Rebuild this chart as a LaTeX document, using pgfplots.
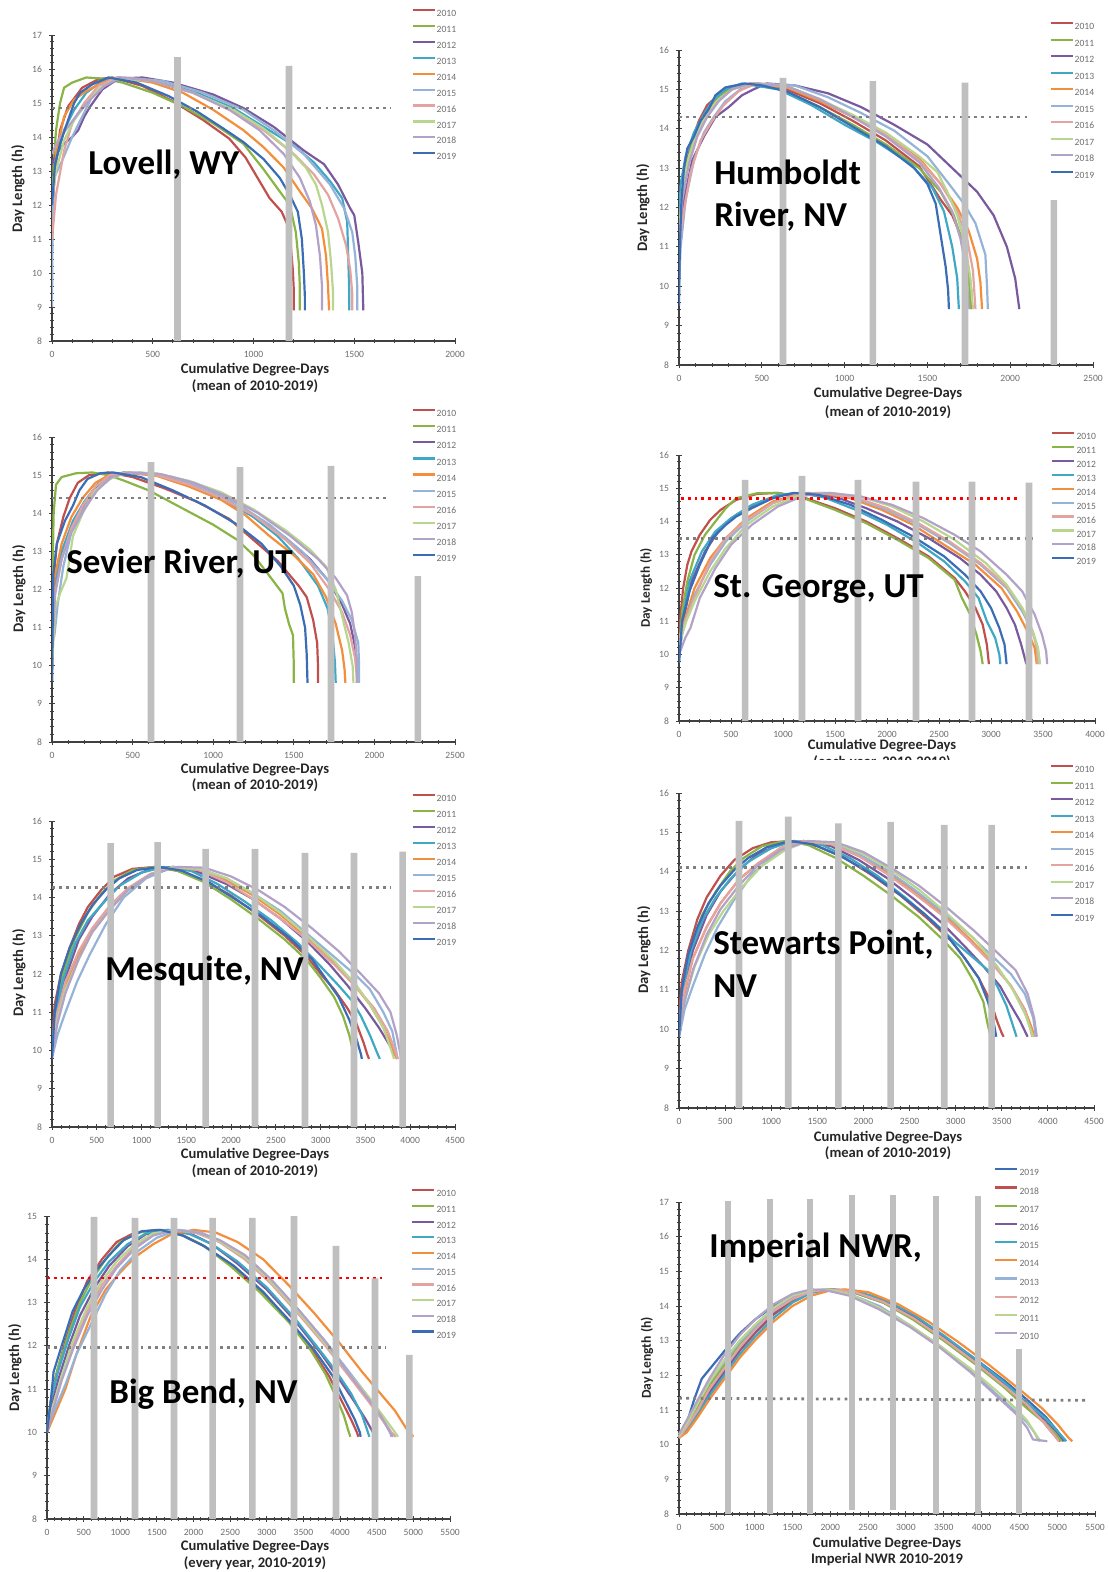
\documentclass[border=0pt]{standalone}
\usepackage{fontspec}
\setmainfont{Carlito}
\usepackage{pgfplots}
\pgfplotsset{compat=1.18}
\definecolor{c10}{HTML}{C0504D}
\definecolor{c11}{HTML}{8AB445}
\definecolor{c12}{HTML}{7A5A9E}
\definecolor{c13}{HTML}{3FA8C4}
\definecolor{c14}{HTML}{F38E3C}
\definecolor{c15}{HTML}{95B3D7}
\definecolor{c16}{HTML}{E3A3A1}
\definecolor{c17}{HTML}{B9D68E}
\definecolor{c18}{HTML}{B3A2C7}
\definecolor{c19}{HTML}{3A6DB5}
\definecolor{barcol}{HTML}{BFBFBF}
\definecolor{dotcol}{HTML}{7F7F7F}
\definecolor{axcol}{HTML}{404040}
\definecolor{tickcol}{HTML}{6E6E6E}
\definecolor{legcol}{HTML}{6E6E6E}
\pgfplotsset{
  s10/.style={draw=c10, line width=1.1pt, no marks, line join=round},
  s11/.style={draw=c11, line width=1.1pt, no marks, line join=round},
  s12/.style={draw=c12, line width=1.1pt, no marks, line join=round},
  s13/.style={draw=c13, line width=1.1pt, no marks, line join=round},
  s14/.style={draw=c14, line width=1.1pt, no marks, line join=round},
  s15/.style={draw=c15, line width=1.1pt, no marks, line join=round},
  s16/.style={draw=c16, line width=1.1pt, no marks, line join=round},
  s17/.style={draw=c17, line width=1.1pt, no marks, line join=round},
  s18/.style={draw=c18, line width=1.1pt, no marks, line join=round},
  s19/.style={draw=c19, line width=1.1pt, no marks, line join=round},
  gdot/.style={draw=dotcol, line width=1.4pt, dash pattern=on 1.4pt off 2.2pt, no marks, forget plot},
  rdot/.style={draw=red, line width=1.4pt, dash pattern=on 1.4pt off 2.0pt, no marks, forget plot},
  bars/.style={ybar, bar width=3.3pt, fill=barcol, draw=none, forget plot},
  panel/.style={
    scale only axis, anchor=south west,
    axis lines=left,
    axis line style={draw=axcol, line width=0.6pt, -},
    x axis line style={-}, y axis line style={-},
    every tick/.style={draw=axcol, line width=0.45pt},
    major tick length=3pt, minor tick length=1.6pt,
    tick align=center,
    minor x tick num=4, minor y tick num=4,
    xmin=0, ymin=8,
    scaled ticks=false,
    tick label style={font=\fontsize{4.8}{5}\selectfont, text=tickcol},
    /pgf/number format/assume math mode=true,
    /pgf/number format/1000 sep={},
    legend cell align=left,
    legend image code/.code={\draw[##1, line width=1.1pt] (0pt,1.65pt) -- (11pt,1.65pt);},
    legend style={anchor=north west, draw=none, fill=none, inner sep=0pt,
      font=\fontsize{4.8}{5}\selectfont, text=legcol,
      nodes={inner sep=0.5pt, text height=3.3pt, text depth=0pt}},
  },
}
\begin{document}
\begin{tikzpicture}
\path[use as bounding box] (0,0) rectangle (554pt,-786pt);

% ---------------- Panel 1: Lovell ----------------
\begin{axis}[panel, at={(26pt,-170.5pt)}, width=201.5pt, height=153pt,
  xmax=2000, ymax=17, xtick={0,500,...,2000}, ytick={8,...,17},
  legend style={at={(0.891,1.086)}, row sep=3.6pt}]
\addplot[s10] coordinates {(0,11.6)(15,13.0)(40,14.2)(80,14.9)(150,15.45)(230,15.7)(300,15.75)(450,15.5)(600,15.05)(750,14.5)(880,13.95)(960,13.4)(1020,12.8)(1080,12.2)(1140,11.8)(1170,11.4)(1185,10.8)(1195,10.1)(1200,9.5)(1200,8.9)};
\addlegendentry{2010}
\addplot[s11] coordinates {(0,11.0)(8,13.2)(20,14.2)(40,15.0)(60,15.45)(100,15.6)(170,15.75)(250,15.72)(350,15.6)(500,15.3)(650,14.9)(800,14.4)(950,13.8)(1050,13.05)(1130,12.4)(1180,12.0)(1210,11.2)(1225,10.3)(1230,9.6)(1230,8.9)};
\addlegendentry{2011}
\addplot[s12] coordinates {(0,13.2)(20,13.5)(60,13.8)(100,14.0)(130,14.2)(160,14.6)(190,14.9)(250,15.4)(330,15.72)(450,15.75)(600,15.6)(800,15.25)(950,14.85)(1100,14.3)(1250,13.6)(1350,13.2)(1420,12.6)(1480,11.9)(1500,11.7)(1520,10.9)(1540,10.0)(1545,8.9)};
\addlegendentry{2012}
\addplot[s13] coordinates {(0,12.3)(20,13.3)(60,14.2)(110,14.8)(170,15.3)(250,15.65)(330,15.75)(500,15.65)(700,15.35)(900,14.85)(1050,14.3)(1200,13.75)(1300,13.25)(1380,12.7)(1440,12.2)(1465,11.5)(1470,10.5)(1475,9.5)(1475,8.9)};
\addlegendentry{2013}
\addplot[s14] coordinates {(0,12.0)(20,13.5)(60,14.6)(110,15.1)(170,15.35)(250,15.6)(330,15.75)(500,15.6)(650,15.3)(800,14.8)(950,14.2)(1050,13.7)(1150,13.1)(1230,12.4)(1290,11.9)(1340,11.3)(1360,10.5)(1370,9.6)(1375,8.9)};
\addlegendentry{2014}
\addplot[s15] coordinates {(0,9.0)(3,11.5)(10,12.8)(50,13.3)(100,14.0)(150,14.6)(200,15.2)(270,15.6)(360,15.75)(550,15.65)(750,15.3)(950,14.8)(1100,14.2)(1250,13.5)(1380,12.6)(1450,11.9)(1490,11.2)(1505,10.5)(1515,9.6)(1515,8.9)};
\addlegendentry{2015}
\addplot[s16] coordinates {(0,11.0)(20,12.3)(60,13.6)(100,14.4)(160,15.0)(230,15.5)(320,15.75)(500,15.65)(700,15.3)(900,14.75)(1050,14.2)(1200,13.5)(1300,12.9)(1370,12.3)(1420,11.6)(1460,10.8)(1480,10.1)(1490,9.4)(1490,8.9)};
\addlegendentry{2016}
\addplot[s17] coordinates {(0,12.2)(20,13.0)(60,13.9)(110,14.5)(160,14.9)(230,15.4)(320,15.72)(500,15.65)(700,15.3)(900,14.8)(1050,14.25)(1180,13.6)(1260,13.1)(1310,12.6)(1340,12.0)(1370,11.2)(1385,10.3)(1395,9.4)(1395,8.9)};
\addlegendentry{2017}
\addplot[s18] coordinates {(0,13.5)(30,13.9)(80,14.3)(130,14.7)(190,15.1)(260,15.5)(340,15.75)(500,15.65)(700,15.3)(880,14.8)(1030,14.2)(1150,13.5)(1230,12.8)(1280,12.1)(1310,11.4)(1330,10.5)(1340,9.6)(1340,8.9)};
\addlegendentry{2018}
\addplot[s19] coordinates {(0,12.0)(15,13.2)(40,13.8)(80,14.5)(110,15.0)(140,15.3)(200,15.55)(280,15.75)(420,15.6)(580,15.2)(720,14.75)(850,14.25)(950,13.85)(1050,13.35)(1130,12.8)(1180,12.3)(1220,11.8)(1240,11.0)(1250,10.0)(1255,9.3)(1255,8.9)};
\addlegendentry{2019}
\addplot[gdot] coordinates {(0,14.85)(1680,14.85)};
\addplot[bars] coordinates {(623,16.35)(1176,16.09)};
\end{axis}

% ---------------- Panel 2: Humboldt ----------------
\begin{axis}[panel, at={(339.5pt,-182.5pt)}, width=207pt, height=157.5pt,
  xmax=2500, ymax=16, xtick={0,500,...,2500}, ytick={8,...,16},
  legend style={at={(0.894,1.090)}, row sep=3.9pt}]
\addplot[s10] coordinates {(0,10.5)(10,11.8)(30,12.8)(70,13.6)(120,14.2)(170,14.6)(250,14.9)(350,15.1)(480,15.15)(650,15.0)(850,14.65)(1050,14.2)(1250,13.7)(1450,13.05)(1580,12.2)(1650,11.8)(1710,11.2)(1745,10.5)(1765,9.9)(1770,9.42)};
\addlegendentry{2010}
\addplot[s11] coordinates {(0,10.8)(15,12.2)(40,13.0)(80,13.6)(130,14.1)(180,14.5)(250,14.85)(330,15.05)(450,15.15)(620,15.0)(850,14.55)(1050,14.1)(1250,13.6)(1450,13.0)(1580,12.4)(1660,11.8)(1720,11.0)(1750,10.3)(1760,9.42)};
\addlegendentry{2011}
\addplot[s12] coordinates {(0,11.0)(30,12.2)(80,13.2)(150,13.8)(220,14.3)(300,14.55)(380,14.85)(450,15.0)(530,15.15)(700,15.1)(900,14.9)(1100,14.55)(1300,14.1)(1500,13.6)(1650,13.0)(1800,12.4)(1900,11.8)(1980,11.0)(2030,10.2)(2055,9.42)};
\addlegendentry{2012}
\addplot[s13] coordinates {(0,11.5)(10,12.6)(40,13.3)(90,13.9)(140,14.3)(200,14.7)(280,15.0)(380,15.15)(600,15.0)(800,14.6)(1000,14.1)(1200,13.65)(1400,13.1)(1530,12.5)(1600,11.9)(1650,11.0)(1680,10.2)(1690,9.42)};
\addlegendentry{2013}
\addplot[s14] coordinates {(0,11.3)(20,12.4)(60,13.2)(110,13.9)(170,14.4)(240,14.75)(320,15.0)(430,15.15)(650,15.05)(850,14.7)(1050,14.3)(1250,13.85)(1450,13.25)(1580,12.6)(1680,12.0)(1750,11.4)(1800,10.7)(1820,10.1)(1830,9.42)};
\addlegendentry{2014}
\addplot[s15] coordinates {(0,10.0)(10,11.0)(40,12.2)(90,13.2)(150,13.9)(210,14.3)(280,14.7)(370,15.0)(480,15.15)(700,15.1)(900,14.8)(1100,14.4)(1300,13.95)(1500,13.3)(1630,12.6)(1720,12.1)(1790,11.6)(1850,10.8)(1860,10.0)(1865,9.42)};
\addlegendentry{2015}
\addplot[s16] coordinates {(0,11.0)(25,11.8)(70,12.9)(130,13.7)(200,14.2)(270,14.6)(360,14.95)(460,15.15)(650,15.08)(850,14.75)(1050,14.3)(1250,13.85)(1450,13.2)(1580,12.6)(1680,11.9)(1740,11.2)(1775,10.4)(1790,9.42)};
\addlegendentry{2016}
\addplot[s17] coordinates {(0,11.3)(20,12.5)(60,13.3)(110,13.9)(170,14.4)(240,14.75)(320,15.0)(430,15.15)(650,15.08)(850,14.75)(1050,14.35)(1250,13.9)(1450,13.3)(1560,12.9)(1620,12.4)(1680,11.8)(1730,11.0)(1760,10.2)(1775,9.42)};
\addlegendentry{2017}
\addplot[s18] coordinates {(0,11.0)(20,12.2)(60,13.1)(110,13.8)(170,14.3)(240,14.7)(320,15.0)(430,15.15)(650,15.08)(850,14.75)(1050,14.3)(1250,13.8)(1450,13.15)(1570,12.5)(1650,11.9)(1700,11.2)(1735,10.4)(1750,9.42)};
\addlegendentry{2018}
\addplot[s19] coordinates {(0,9.5)(5,11.0)(15,12.2)(30,13.0)(50,13.5)(90,13.8)(130,14.2)(180,14.5)(220,14.85)(280,15.05)(400,15.15)(500,15.1)(650,14.95)(850,14.55)(1050,14.05)(1250,13.55)(1420,13.0)(1500,12.6)(1550,12.1)(1580,11.3)(1610,10.5)(1625,9.9)(1630,9.42)};
\addlegendentry{2019}
\addplot[gdot] coordinates {(0,14.3)(2113,14.3)};
\addplot[bars] coordinates {(628,15.29)(1171,15.21)(1727,15.17)(2264,12.19)};
\end{axis}

% ---------------- Panel 3: Sevier ----------------
\begin{axis}[panel, at={(26pt,-371pt)}, width=201.5pt, height=152.5pt,
  xmax=2500, ymax=16, xtick={0,500,...,2500}, ytick={8,...,16},
  legend style={at={(0.891,1.093)}, row sep=3.7pt}]
\addplot[s10] coordinates {(0,9.6)(8,12.2)(30,13.2)(70,13.9)(110,14.4)(160,14.8)(230,15.0)(350,15.07)(500,14.95)(700,14.65)(900,14.3)(1100,13.85)(1250,13.3)(1400,12.75)(1530,12.1)(1580,11.8)(1620,11.2)(1645,10.6)(1650,10.0)(1650,9.55)};
\addlegendentry{2010}
\addplot[s11] coordinates {(0,9.6)(4,12.5)(10,14.0)(25,14.75)(60,14.95)(150,15.05)(250,15.07)(350,15.0)(450,14.85)(600,14.6)(800,14.15)(1000,13.7)(1150,13.3)(1250,12.9)(1350,12.35)(1430,11.9)(1445,11.5)(1470,11.1)(1495,10.8)(1500,10.0)(1500,9.55)};
\addlegendentry{2011}
\addplot[s12] coordinates {(0,10.5)(15,12.2)(50,12.9)(120,13.6)(200,14.2)(280,14.7)(350,14.95)(450,15.07)(650,15.0)(850,14.75)(1050,14.4)(1250,13.95)(1450,13.35)(1600,12.8)(1720,12.2)(1800,11.6)(1850,11.1)(1880,10.5)(1895,9.9)(1895,9.55)};
\addlegendentry{2012}
\addplot[s13] coordinates {(0,10.2)(15,12.0)(60,13.0)(130,13.8)(200,14.3)(280,14.75)(360,15.0)(450,15.07)(650,15.0)(850,14.75)(1050,14.4)(1250,13.9)(1400,13.4)(1530,12.8)(1650,12.1)(1710,11.5)(1740,10.8)(1755,10.1)(1760,9.55)};
\addlegendentry{2013}
\addplot[s14] coordinates {(0,10.5)(15,12.3)(60,13.2)(120,13.9)(190,14.4)(270,14.8)(360,15.02)(460,15.07)(650,14.98)(850,14.7)(1050,14.35)(1200,13.95)(1350,13.4)(1500,12.9)(1620,12.4)(1700,11.8)(1760,11.1)(1800,10.4)(1815,9.9)(1820,9.55)};
\addlegendentry{2014}
\addplot[s15] coordinates {(0,10.6)(15,10.8)(35,11.6)(70,12.6)(120,13.5)(180,14.0)(250,14.5)(330,14.85)(430,15.05)(550,15.07)(750,14.95)(950,14.65)(1150,14.25)(1350,13.7)(1550,13.0)(1700,12.3)(1800,11.7)(1860,11.2)(1900,10.6)(1905,10.0)(1905,9.55)};
\addlegendentry{2015}
\addplot[s16] coordinates {(0,10.3)(15,11.8)(60,12.8)(120,13.6)(190,14.2)(270,14.7)(360,15.0)(460,15.07)(650,15.0)(850,14.75)(1050,14.4)(1250,13.95)(1450,13.3)(1600,12.7)(1720,12.0)(1800,11.4)(1850,10.8)(1880,10.2)(1895,9.55)};
\addlegendentry{2016}
\addplot[s17] coordinates {(0,10.0)(20,11.5)(50,11.9)(90,12.3)(130,13.4)(190,14.0)(270,14.6)(360,14.9)(460,15.07)(650,15.05)(850,14.85)(1050,14.55)(1250,14.1)(1450,13.55)(1600,13.05)(1700,12.6)(1760,12.0)(1800,11.3)(1840,10.6)(1865,10.0)(1870,9.55)};
\addlegendentry{2017}
\addplot[s18] coordinates {(0,10.4)(20,11.9)(60,12.8)(120,13.5)(200,14.1)(280,14.6)(370,14.95)(480,15.07)(680,15.02)(880,14.8)(1080,14.45)(1280,14.0)(1480,13.4)(1650,12.8)(1760,12.3)(1830,11.85)(1860,11.4)(1880,10.8)(1890,10.2)(1890,9.55)};
\addlegendentry{2018}
\addplot[s19] coordinates {(0,9.6)(8,12.4)(30,13.2)(80,13.8)(130,14.2)(170,14.6)(220,14.9)(300,15.05)(380,15.07)(550,14.95)(750,14.6)(950,14.2)(1150,13.7)(1300,13.2)(1420,12.6)(1500,12.1)(1540,11.6)(1570,11.0)(1580,10.3)(1585,9.55)};
\addlegendentry{2019}
\addplot[gdot] coordinates {(0,14.4)(2097,14.4)};
\addplot[bars] coordinates {(614,15.34)(1166,15.21)(1731,15.24)(2270,12.35)};
\end{axis}

% ---------------- Panel 4: St. George ----------------
\begin{axis}[panel, at={(339.5pt,-360.5pt)}, width=208pt, height=133pt,
  xmax=4000, ymax=16, xtick={0,500,...,4000}, ytick={8,...,16},
  legend style={at={(0.894,1.088)}, row sep=2.6pt}]
\addplot[s10] coordinates {(0,10.3)(15,11.2)(40,12.0)(80,12.7)(120,13.1)(200,13.6)(300,14.05)(400,14.35)(550,14.65)(750,14.83)(950,14.86)(1200,14.72)(1500,14.4)(1800,14.0)(2100,13.5)(2400,12.95)(2650,12.3)(2750,11.9)(2850,11.4)(2920,10.9)(2960,10.3)(2980,9.71)};
\addlegendentry{2010}
\addplot[s11] coordinates {(0,10.0)(30,11.3)(80,12.2)(150,13.0)(250,13.6)(350,14.0)(450,14.4)(550,14.7)(750,14.85)(950,14.86)(1200,14.7)(1500,14.35)(1800,13.95)(2100,13.45)(2400,12.9)(2650,12.25)(2720,11.7)(2800,11.2)(2860,10.6)(2900,10.1)(2920,9.71)};
\addlegendentry{2011}
\addplot[s12] coordinates {(0,9.9)(40,11.0)(120,12.2)(250,13.1)(400,13.8)(550,14.2)(750,14.55)(1000,14.8)(1250,14.86)(1500,14.75)(1800,14.4)(2100,14.0)(2400,13.5)(2700,12.9)(2900,12.4)(3050,11.9)(3150,11.4)(3230,10.9)(3290,10.3)(3340,9.71)};
\addlegendentry{2012}
\addplot[s13] coordinates {(0,9.8)(30,11.0)(100,12.2)(220,13.1)(350,13.7)(500,14.1)(700,14.5)(950,14.8)(1150,14.86)(1400,14.72)(1700,14.35)(2000,13.9)(2300,13.35)(2550,12.8)(2750,12.2)(2880,11.7)(2960,11.0)(3040,10.5)(3080,10.0)(3090,9.71)};
\addlegendentry{2013}
\addplot[s14] coordinates {(0,10.2)(50,11.0)(150,12.0)(300,12.9)(450,13.5)(650,14.1)(900,14.6)(1150,14.83)(1350,14.86)(1650,14.7)(1950,14.35)(2250,13.9)(2550,13.3)(2850,12.7)(3100,12.0)(3250,11.3)(3350,10.7)(3420,10.2)(3440,9.71)};
\addlegendentry{2014}
\addplot[s15] coordinates {(0,10.1)(50,10.9)(150,11.8)(300,12.7)(450,13.4)(650,14.0)(900,14.55)(1150,14.82)(1400,14.86)(1700,14.7)(2000,14.35)(2300,13.9)(2600,13.35)(2900,12.7)(3150,12.0)(3300,11.3)(3400,10.7)(3450,10.2)(3470,9.71)};
\addlegendentry{2015}
\addplot[s16] coordinates {(0,10.5)(60,11.0)(150,11.7)(300,12.8)(450,13.5)(650,14.05)(900,14.55)(1150,14.82)(1400,14.86)(1700,14.72)(2000,14.4)(2300,13.95)(2600,13.4)(2900,12.75)(3150,12.05)(3300,11.4)(3400,10.7)(3440,10.2)(3450,9.71)};
\addlegendentry{2016}
\addplot[s17] coordinates {(0,10.3)(70,11.0)(150,11.6)(300,12.5)(450,13.2)(650,13.9)(900,14.45)(1150,14.78)(1450,14.86)(1750,14.75)(2050,14.45)(2350,14.0)(2650,13.45)(2950,12.75)(3150,12.1)(3300,11.4)(3400,10.7)(3450,10.2)(3470,9.71)};
\addlegendentry{2017}
\addplot[s18] coordinates {(0,10.0)(60,10.5)(110,10.8)(200,11.7)(350,12.6)(500,13.3)(700,13.9)(950,14.45)(1200,14.78)(1450,14.86)(1750,14.75)(2050,14.5)(2350,14.1)(2650,13.6)(2900,13.1)(3150,12.4)(3300,11.9)(3420,11.2)(3490,10.6)(3530,10.1)(3540,9.71)};
\addlegendentry{2018}
\addplot[s19] coordinates {(0,9.75)(30,11.0)(100,11.9)(200,12.7)(320,13.5)(450,13.9)(550,14.15)(700,14.4)(900,14.7)(1100,14.86)(1350,14.8)(1650,14.5)(1950,14.05)(2250,13.55)(2550,12.95)(2750,12.4)(2900,11.9)(3000,11.4)(3080,10.8)(3130,10.3)(3150,9.71)};
\addlegendentry{2019}
\addplot[rdot] coordinates {(20,14.68)(3280,14.68)};
\addplot[gdot] coordinates {(0,13.5)(3394,13.5)};
\addplot[bars] coordinates {(635,15.25)(1183,15.37)(1721,15.25)(2279,15.2)(2817,15.2)(3365,15.17)};
\end{axis}

% ---------------- Panel 5: Mesquite ----------------
\begin{axis}[panel, at={(26pt,-563.5pt)}, width=201.5pt, height=153pt,
  xmax=4500, ymax=16, xtick={0,500,...,4500}, ytick={8,...,16},
  legend style={at={(0.891,1.089)}, row sep=3.65pt}]
\addplot[s10] coordinates {(0,10.2)(30,11.2)(100,12.0)(200,12.7)(300,13.3)(400,13.75)(550,14.2)(700,14.55)(900,14.75)(1150,14.8)(1400,14.7)(1700,14.45)(2000,14.05)(2300,13.55)(2600,13.0)(2850,12.45)(3000,12.0)(3150,11.6)(3300,11.1)(3400,10.7)(3480,10.2)(3520,9.9)(3540,9.78)};
\addlegendentry{2010}
\addplot[s11] coordinates {(0,10.0)(40,11.0)(120,12.0)(250,12.9)(400,13.6)(550,14.1)(700,14.45)(900,14.72)(1150,14.8)(1400,14.7)(1700,14.4)(2000,13.95)(2300,13.45)(2600,12.9)(2850,12.35)(3000,11.9)(3150,11.4)(3250,10.9)(3320,10.4)(3370,9.9)(3380,9.78)};
\addlegendentry{2011}
\addplot[s12] coordinates {(0,10.0)(50,11.0)(150,11.9)(300,12.9)(450,13.5)(650,14.1)(850,14.5)(1100,14.75)(1350,14.8)(1650,14.65)(1950,14.35)(2250,13.95)(2550,13.45)(2850,12.85)(3100,12.25)(3300,11.7)(3500,11.1)(3650,10.6)(3780,10.1)(3860,9.78)};
\addlegendentry{2012}
\addplot[s13] coordinates {(0,10.0)(40,11.0)(130,11.9)(260,12.8)(400,13.4)(550,13.8)(750,14.3)(1000,14.65)(1250,14.8)(1550,14.7)(1850,14.35)(2150,13.9)(2450,13.4)(2750,12.8)(3000,12.2)(3200,11.7)(3350,11.3)(3450,10.9)(3550,10.4)(3620,10.0)(3660,9.78)};
\addlegendentry{2013}
\addplot[s14] coordinates {(0,10.1)(60,10.8)(150,11.7)(300,12.5)(450,13.1)(650,13.7)(850,14.2)(1100,14.6)(1350,14.8)(1650,14.72)(1950,14.45)(2250,14.05)(2550,13.55)(2850,12.95)(3150,12.3)(3350,11.8)(3550,11.2)(3700,10.6)(3800,10.1)(3850,9.78)};
\addlegendentry{2014}
\addplot[s15] coordinates {(0,9.8)(60,10.4)(150,11.0)(280,11.8)(420,12.5)(600,13.3)(800,14.0)(1050,14.5)(1350,14.8)(1650,14.75)(1950,14.5)(2250,14.1)(2550,13.65)(2850,13.05)(3150,12.45)(3400,11.95)(3550,11.6)(3700,11.0)(3800,10.5)(3860,9.78)};
\addlegendentry{2015}
\addplot[s16] coordinates {(0,10.2)(60,11.0)(150,11.8)(300,12.6)(450,13.2)(650,13.8)(850,14.25)(1100,14.62)(1350,14.8)(1650,14.72)(1950,14.4)(2250,13.95)(2550,13.45)(2850,12.9)(3150,12.25)(3400,11.65)(3600,11.1)(3750,10.5)(3830,10.0)(3860,9.78)};
\addlegendentry{2016}
\addplot[s17] coordinates {(0,10.0)(60,10.8)(150,11.6)(300,12.4)(450,13.1)(650,13.7)(850,14.2)(1100,14.6)(1350,14.8)(1650,14.75)(1950,14.5)(2250,14.1)(2550,13.6)(2850,13.0)(3150,12.35)(3400,11.7)(3550,11.2)(3700,10.6)(3790,10.0)(3820,9.78)};
\addlegendentry{2017}
\addplot[s18] coordinates {(0,9.9)(60,10.7)(150,11.5)(300,12.4)(450,13.1)(650,13.7)(850,14.2)(1100,14.6)(1400,14.8)(1700,14.78)(2000,14.55)(2300,14.2)(2600,13.75)(2900,13.2)(3200,12.6)(3450,12.0)(3650,11.5)(3780,11.0)(3850,10.4)(3890,9.9)(3900,9.78)};
\addlegendentry{2018}
\addplot[s19] coordinates {(0,9.8)(30,11.0)(100,12.0)(200,12.7)(320,13.3)(450,13.8)(600,14.2)(750,14.5)(950,14.72)(1200,14.8)(1450,14.7)(1750,14.4)(2050,13.95)(2350,13.5)(2650,12.95)(2900,12.4)(3050,11.9)(3200,11.4)(3320,10.8)(3400,10.3)(3450,9.9)(3460,9.78)};
\addlegendentry{2019}
\addplot[gdot] coordinates {(0,14.26)(3782,14.26)};
\addplot[bars] coordinates {(655,15.42)(1180,15.45)(1716,15.27)(2267,15.27)(2825,15.17)(3372,15.17)(3916,15.2)};
\end{axis}

% ---------------- Panel 6: Stewarts Point ----------------
\begin{axis}[panel, at={(339.5pt,-554pt)}, width=207.5pt, height=157.5pt,
  xmax=4500, ymax=16, xtick={0,500,...,4500}, ytick={8,...,16},
  legend style={at={(0.892,1.090)}, row sep=3.9pt}]
\addplot[s10] coordinates {(0,10.3)(30,11.2)(100,12.0)(200,12.8)(300,13.35)(450,13.9)(600,14.3)(800,14.6)(1000,14.75)(1250,14.78)(1500,14.65)(1800,14.35)(2100,13.9)(2400,13.4)(2700,12.8)(2950,12.25)(3100,11.8)(3250,11.3)(3380,10.7)(3450,10.2)(3500,9.9)(3520,9.81)};
\addlegendentry{2010}
\addplot[s11] coordinates {(0,10.0)(40,11.0)(120,12.0)(250,12.9)(400,13.5)(550,14.0)(700,14.35)(900,14.65)(1150,14.78)(1400,14.68)(1700,14.35)(2000,13.9)(2300,13.4)(2600,12.85)(2850,12.3)(3050,11.8)(3200,11.2)(3300,10.7)(3340,10.2)(3370,9.9)(3380,9.81)};
\addlegendentry{2011}
\addplot[s12] coordinates {(0,10.0)(50,11.0)(150,12.0)(300,12.9)(450,13.5)(650,14.05)(850,14.45)(1100,14.7)(1350,14.78)(1650,14.65)(1950,14.3)(2250,13.85)(2550,13.3)(2850,12.7)(3100,12.1)(3300,11.6)(3480,11.1)(3600,10.6)(3700,10.2)(3780,9.81)};
\addlegendentry{2012}
\addplot[s13] coordinates {(0,10.0)(40,11.0)(130,12.0)(260,12.8)(400,13.35)(550,13.8)(750,14.25)(1000,14.6)(1250,14.78)(1550,14.68)(1850,14.35)(2150,13.9)(2450,13.35)(2750,12.75)(3000,12.2)(3200,11.8)(3350,11.5)(3450,11.1)(3550,10.6)(3620,10.1)(3660,9.81)};
\addlegendentry{2013}
\addplot[s14] coordinates {(0,10.1)(60,10.9)(150,11.8)(300,12.6)(450,13.2)(650,13.8)(850,14.2)(1100,14.6)(1350,14.78)(1650,14.7)(1950,14.4)(2250,14.0)(2550,13.5)(2850,12.95)(3150,12.3)(3400,11.7)(3600,11.1)(3750,10.5)(3830,10.0)(3850,9.81)};
\addlegendentry{2014}
\addplot[s15] coordinates {(0,9.8)(60,10.5)(150,11.1)(280,11.9)(420,12.6)(600,13.3)(800,13.95)(1050,14.45)(1350,14.78)(1650,14.72)(1950,14.45)(2250,14.05)(2550,13.55)(2850,13.0)(3150,12.4)(3400,11.85)(3600,11.4)(3750,10.9)(3840,10.3)(3870,9.81)};
\addlegendentry{2015}
\addplot[s16] coordinates {(0,10.2)(60,11.0)(150,11.8)(300,12.6)(450,13.2)(650,13.8)(850,14.2)(1100,14.6)(1350,14.78)(1650,14.7)(1950,14.4)(2250,13.95)(2550,13.45)(2850,12.9)(3150,12.25)(3400,11.65)(3600,11.1)(3750,10.5)(3810,10.0)(3830,9.81)};
\addlegendentry{2016}
\addplot[s17] coordinates {(0,10.0)(70,10.8)(170,11.6)(320,12.4)(480,13.0)(680,13.6)(900,14.15)(1150,14.55)(1400,14.78)(1700,14.72)(2000,14.45)(2300,14.05)(2600,13.55)(2900,12.95)(3200,12.3)(3450,11.6)(3620,11.0)(3750,10.4)(3820,9.95)(3840,9.81)};
\addlegendentry{2017}
\addplot[s18] coordinates {(0,9.9)(60,10.7)(150,11.5)(300,12.4)(450,13.05)(650,13.65)(850,14.15)(1100,14.55)(1400,14.78)(1700,14.75)(2000,14.5)(2300,14.1)(2600,13.65)(2900,13.1)(3200,12.5)(3450,11.95)(3650,11.5)(3780,10.9)(3850,10.3)(3880,9.81)};
\addlegendentry{2018}
\addplot[s19] coordinates {(0,9.8)(30,11.0)(100,11.9)(200,12.6)(320,13.2)(450,13.65)(600,14.05)(750,14.35)(950,14.62)(1200,14.78)(1450,14.7)(1750,14.4)(2050,14.0)(2350,13.5)(2650,12.95)(2900,12.4)(3100,11.8)(3250,11.3)(3350,10.7)(3410,10.2)(3440,9.81)};
\addlegendentry{2019}
\addplot[gdot] coordinates {(0,14.1)(3774,14.1)};
\addplot[bars] coordinates {(651,15.29)(1185,15.4)(1728,15.23)(2295,15.27)(2876,15.19)(3390,15.19)};
\end{axis}

% ---------------- Panel 7: Big Bend ----------------
\begin{axis}[panel, at={(23.5pt,-759.5pt)}, width=201.5pt, height=151.5pt,
  xmax=5500, ymax=15, xtick={0,500,...,5500}, ytick={8,...,15},
  legend style={at={(0.903,1.090)}, row sep=3.5pt}]
\addplot[s10] coordinates {(0,10.0)(50,10.7)(120,11.3)(250,12.1)(400,12.9)(550,13.5)(750,14.0)(950,14.4)(1200,14.62)(1500,14.68)(1800,14.6)(2100,14.35)(2500,13.9)(2900,13.3)(3300,12.6)(3600,11.95)(3850,11.3)(4000,10.8)(4150,10.3)(4230,10.0)(4250,9.9)};
\addlegendentry{2010}
\addplot[s11] coordinates {(0,10.0)(60,10.8)(150,11.5)(300,12.3)(450,13.0)(600,13.5)(800,14.0)(1000,14.4)(1250,14.62)(1550,14.68)(1850,14.55)(2150,14.3)(2500,13.85)(2900,13.25)(3300,12.55)(3600,11.9)(3800,11.35)(3950,10.8)(4050,10.4)(4120,10.0)(4140,9.9)};
\addlegendentry{2011}
\addplot[s12] coordinates {(0,10.0)(60,10.6)(150,11.2)(300,12.0)(450,12.7)(650,13.35)(850,13.85)(1100,14.3)(1350,14.58)(1650,14.68)(1950,14.6)(2250,14.35)(2600,13.9)(3000,13.3)(3400,12.55)(3750,11.8)(4000,11.2)(4200,10.7)(4350,10.3)(4450,10.0)(4500,9.9)};
\addlegendentry{2012}
\addplot[s13] coordinates {(0,10.1)(60,10.8)(150,11.4)(300,12.2)(450,12.9)(650,13.5)(850,13.95)(1100,14.35)(1350,14.6)(1650,14.68)(1950,14.58)(2250,14.35)(2600,13.95)(3000,13.35)(3400,12.6)(3700,11.95)(3950,11.4)(4150,10.9)(4300,10.4)(4380,10.0)(4400,9.9)};
\addlegendentry{2013}
\addplot[s14] coordinates {(0,10.0)(100,10.4)(250,11.0)(400,11.8)(600,12.7)(800,13.3)(1000,13.7)(1200,14.05)(1450,14.35)(1700,14.58)(2000,14.68)(2300,14.62)(2600,14.4)(2950,14.0)(3300,13.4)(3650,12.75)(4000,12.05)(4300,11.4)(4550,10.9)(4750,10.5)(4900,10.1)(5000,9.9)};
\addlegendentry{2014}
\addplot[s15] coordinates {(0,10.1)(100,10.5)(250,11.1)(400,11.8)(600,12.5)(800,13.2)(1000,13.75)(1250,14.2)(1500,14.5)(1800,14.68)(2100,14.62)(2400,14.4)(2750,14.0)(3100,13.45)(3450,12.8)(3800,12.1)(4100,11.45)(4350,10.9)(4550,10.4)(4680,10.05)(4700,9.9)};
\addlegendentry{2015}
\addplot[s16] coordinates {(0,10.1)(80,10.6)(200,11.3)(350,12.0)(550,12.8)(750,13.4)(950,13.85)(1200,14.3)(1450,14.58)(1750,14.68)(2050,14.6)(2350,14.4)(2700,14.0)(3050,13.45)(3450,12.7)(3800,12.0)(4100,11.35)(4350,10.8)(4550,10.35)(4700,10.0)(4760,9.9)};
\addlegendentry{2016}
\addplot[s17] coordinates {(0,10.1)(80,10.6)(200,11.3)(350,12.1)(550,12.9)(750,13.5)(950,13.95)(1200,14.35)(1450,14.6)(1750,14.68)(2050,14.62)(2350,14.42)(2700,14.05)(3050,13.5)(3450,12.75)(3800,12.05)(4100,11.4)(4400,10.8)(4600,10.35)(4750,10.0)(4790,9.9)};
\addlegendentry{2017}
\addplot[s18] coordinates {(0,10.0)(80,10.5)(200,11.2)(350,11.9)(550,12.7)(750,13.3)(950,13.8)(1200,14.25)(1450,14.55)(1750,14.68)(2050,14.62)(2350,14.45)(2700,14.1)(3050,13.55)(3450,12.8)(3800,12.1)(4100,11.4)(4350,10.85)(4550,10.4)(4680,10.0)(4720,9.9)};
\addlegendentry{2018}
\addplot[s19] coordinates {(0,10.0)(50,10.7)(90,11.4)(200,12.0)(350,12.8)(500,13.3)(650,13.7)(850,14.1)(1050,14.45)(1300,14.65)(1550,14.68)(1850,14.55)(2150,14.3)(2550,13.85)(2950,13.25)(3350,12.5)(3650,11.9)(3900,11.3)(4050,10.8)(4200,10.3)(4270,10.0)(4280,9.9)};
\addlegendentry{2019}
\addplot[rdot] coordinates {(0,13.57)(4568,13.57)};
\addplot[gdot] coordinates {(0,11.97)(4622,11.97)};
\addplot[bars] coordinates {(641,14.98)(1201,14.96)(1733,14.96)(2261,14.96)(2802,14.96)(3371,15.0)(3944,14.31)(4476,13.56)(4945,11.79)};
\end{axis}

% ---------------- Panel 8: Imperial NWR ----------------
\begin{axis}[panel, at={(339.5pt,-757pt)}, width=208pt, height=156pt,
  xmax=5500, ymax=17, xtick={0,500,...,5500}, ytick={8,...,17}, clip=false,
  legend style={at={(0.757,1.110)}, row sep=4.75pt}]
\addplot[s19] coordinates {(0,10.25)(100,10.6)(200,11.3)(300,11.9)(450,12.3)(600,12.7)(800,13.2)(1000,13.6)(1250,14.0)(1500,14.3)(1750,14.45)(2000,14.48)(2300,14.4)(2700,14.1)(3100,13.65)(3500,13.1)(3900,12.5)(4300,11.85)(4600,11.3)(4850,10.8)(5000,10.4)(5080,10.1)};
\addlegendentry{2019}
\addplot[s10] coordinates {(0,10.2)(100,10.4)(250,10.9)(400,11.5)(600,12.1)(800,12.7)(1000,13.2)(1250,13.75)(1500,14.15)(1750,14.4)(2000,14.48)(2300,14.42)(2700,14.12)(3100,13.65)(3500,13.05)(3900,12.4)(4300,11.7)(4600,11.1)(4800,10.7)(4950,10.3)(5040,10.1)};
\addlegendentry{2018}
\addplot[s11] coordinates {(0,10.2)(100,10.5)(250,11.1)(400,11.7)(600,12.3)(800,12.9)(1000,13.35)(1250,13.85)(1500,14.2)(1750,14.42)(2000,14.48)(2300,14.4)(2700,14.1)(3100,13.6)(3500,13.0)(3900,12.35)(4300,11.65)(4600,11.05)(4850,10.6)(5000,10.25)(5060,10.1)};
\addlegendentry{2017}
\addplot[s12] coordinates {(0,10.2)(100,10.4)(250,10.9)(400,11.5)(600,12.1)(800,12.75)(1000,13.25)(1250,13.8)(1500,14.2)(1750,14.42)(2000,14.48)(2300,14.42)(2700,14.15)(3100,13.7)(3500,13.1)(3900,12.45)(4300,11.75)(4600,11.15)(4850,10.7)(5000,10.35)(5100,10.1)};
\addlegendentry{2016}
\addplot[s13] coordinates {(0,10.2)(100,10.4)(250,10.9)(400,11.4)(600,12.0)(800,12.6)(1000,13.1)(1250,13.65)(1500,14.1)(1750,14.38)(2000,14.48)(2300,14.45)(2700,14.2)(3100,13.75)(3500,13.15)(3900,12.5)(4300,11.8)(4600,11.2)(4850,10.75)(5000,10.4)(5120,10.1)};
\addlegendentry{2015}
\addplot[s14] coordinates {(0,10.2)(100,10.35)(250,10.8)(400,11.3)(600,11.9)(800,12.5)(1000,13.0)(1250,13.55)(1500,14.0)(1750,14.3)(2000,14.45)(2200,14.48)(2500,14.4)(2900,14.05)(3300,13.55)(3700,12.95)(4100,12.3)(4500,11.6)(4800,11.05)(5000,10.6)(5150,10.2)(5200,10.1)};
\addlegendentry{2014}
\addplot[s15] coordinates {(0,10.3)(100,10.6)(250,11.2)(400,11.8)(600,12.4)(800,12.95)(1000,13.4)(1250,13.9)(1500,14.25)(1750,14.45)(1950,14.48)(2250,14.35)(2650,14.0)(3050,13.45)(3450,12.85)(3850,12.15)(4200,11.45)(4450,10.95)(4600,10.65)(4700,10.35)(4760,10.1)};
\addlegendentry{2013}
\addplot[s16] coordinates {(0,10.2)(100,10.5)(250,11.0)(400,11.6)(600,12.2)(800,12.8)(1000,13.3)(1250,13.85)(1500,14.2)(1750,14.42)(2000,14.48)(2300,14.42)(2700,14.12)(3100,13.65)(3500,13.05)(3900,12.4)(4300,11.7)(4600,11.15)(4800,10.7)(4950,10.3)(5020,10.1)};
\addlegendentry{2012}
\addplot[s17] coordinates {(0,10.25)(100,10.6)(250,11.2)(400,11.8)(600,12.45)(800,13.0)(1000,13.45)(1250,13.95)(1500,14.3)(1750,14.45)(1950,14.48)(2250,14.35)(2650,13.95)(3050,13.45)(3450,12.85)(3850,12.2)(4200,11.55)(4450,11.05)(4600,10.7)(4700,10.35)(4780,10.1)};
\addlegendentry{2011}
\addplot[s18] coordinates {(0,10.3)(100,10.7)(250,11.3)(400,11.9)(600,12.6)(800,13.15)(1000,13.6)(1250,14.05)(1500,14.35)(1750,14.48)(1950,14.45)(2250,14.3)(2650,13.9)(3050,13.4)(3450,12.8)(3850,12.1)(4200,11.4)(4450,10.9)(4600,10.5)(4680,10.15)(4870,10.1)};
\addlegendentry{2010}
\addplot[gdot] coordinates {(0,11.34)(5391,11.28)};
\addplot[fill=barcol, draw=none, forget plot] coordinates {(604,8)(604,17.04)(684,17.04)(684,8)} -- cycle;
\addplot[fill=barcol, draw=none, forget plot] coordinates {(1163,8)(1163,17.1)(1243,17.1)(1243,8)} -- cycle;
\addplot[fill=barcol, draw=none, forget plot] coordinates {(1692,8)(1692,17.1)(1772,17.1)(1772,8)} -- cycle;
\addplot[fill=barcol, draw=none, forget plot] coordinates {(2243,8.13)(2243,17.2)(2323,17.2)(2323,8.13)} -- cycle;
\addplot[fill=barcol, draw=none, forget plot] coordinates {(2794,8.13)(2794,17.2)(2874,17.2)(2874,8.13)} -- cycle;
\addplot[fill=barcol, draw=none, forget plot] coordinates {(3359,8)(3359,17.17)(3439,17.17)(3439,8)} -- cycle;
\addplot[fill=barcol, draw=none, forget plot] coordinates {(3917,8)(3917,17.17)(3997,17.17)(3997,8)} -- cycle;
\addplot[fill=barcol, draw=none, forget plot] coordinates {(4455,8)(4455,12.75)(4535,12.75)(4535,8)} -- cycle;
\end{axis}

% ---------------- texts ----------------
\begin{scope}[x=0.5pt,y=-0.5pt]
\tikzset{ttl/.style={font=\bfseries\fontsize{17.5}{20}\selectfont, anchor=base west, inner sep=0pt},
  xl/.style={font=\bfseries\fontsize{7.3}{8}\selectfont, anchor=base, inner sep=0pt, text=black!85},
  yl/.style={font=\bfseries\fontsize{7.3}{8}\selectfont, rotate=90, anchor=center, inner sep=0pt, text=black!85}}
\node[ttl] at (88,175) {Lovell, WY};
\node[ttl] at (714,185) {Humboldt};
\node[ttl] at (714,227) {River, NV};
\node[ttl] at (66,573) {Sevier River, UT};
\node[ttl] at (713,597) {St. George, UT};
\node[ttl] at (105,980) {Mesquite, NV};
\node[ttl] at (713,954) {Stewarts Point,};
\node[ttl] at (713,997) {NV};
\node[ttl] at (109,1403) {Big Bend, NV};
\node[ttl] at (709,1257) {Imperial NWR,};
\node[xl] at (255,374) {Cumulative Degree-Days};
\node[xl] at (255,391) {(mean of 2010-2019)};
\node[xl] at (888,398) {Cumulative Degree-Days};
\node[xl] at (888,416) {(mean of 2010-2019)};
\node[xl] at (255,773) {Cumulative Degree-Days};
\node[xl] at (255,789) {(mean of 2010-2019)};
\node[xl] at (882,749) {Cumulative Degree-Days};
\node[xl] at (882,766) {(each year, 2010-2019)};
\fill[white] (760,760) rectangle (1000,772);
\node[xl] at (255,1158) {Cumulative Degree-Days};
\node[xl] at (255,1175) {(mean of 2010-2019)};
\node[xl] at (888,1141) {Cumulative Degree-Days};
\node[xl] at (888,1157) {(mean of 2010-2019)};
\node[xl] at (255,1550) {Cumulative Degree-Days};
\node[xl] at (255,1567) {(every year, 2010-2019)};
\node[xl] at (887,1547) {Cumulative Degree-Days};
\node[xl] at (887,1563) {Imperial NWR 2010-2019};
\node[yl] at (18,189) {Day Length (h)};
\node[yl] at (643,208) {Day Length (h)};
\node[yl] at (19,589) {Day Length (h)};
\node[yl, font=\bfseries\fontsize{6.6}{8}\selectfont] at (646,588) {Day Length (h)};
\node[yl] at (19,973) {Day Length (h)};
\node[yl] at (644,950) {Day Length (h)};
\node[yl] at (15,1368) {Day Length (h)};
\node[yl, font=\bfseries\fontsize{6.8}{8}\selectfont] at (647,1358) {Day Length (h)};
\end{scope}
\end{tikzpicture}
\end{document}
